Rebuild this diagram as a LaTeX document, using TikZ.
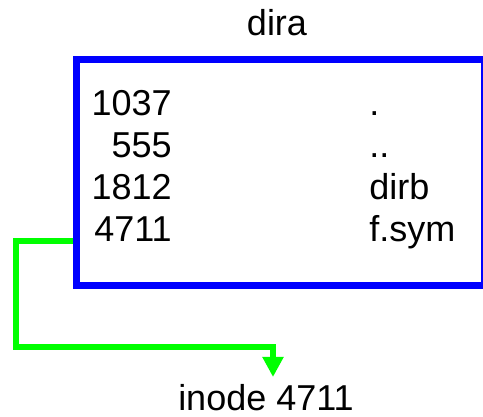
\documentclass[tikz,border=0pt]{standalone}
\usepackage{fontspec}
\setmainfont{Liberation Sans}
\usetikzlibrary{arrows.meta}
\tikzset{
  entry/.style={font=\fontsize{27}{32}\selectfont, inner sep=0pt},
  dirframe/.style={draw=blue, line width=5pt, inner sep=0pt,
    minimum width=305.8pt, minimum height=169.5pt},
  link/.style={draw=green, line width=4.8pt, -{Triangle[length=15pt,width=15pt]}}
}
\begin{document}
\begin{tikzpicture}[x=0.75pt,y=-0.75pt]
   \useasboundingbox (0,0) rectangle (483,417);
   \node[dirframe] (dira) at (280.4,172.5) {};
   \node[entry, anchor=base] (title) at (277,36) {dira};
   \node[entry, anchor=base east] (n1037) at (172,116) {1037};
   \node[entry, anchor=base east] (n555) at (172,158) {555};
   \node[entry, anchor=base east] (n1812) at (172,200) {1812};
   \node[entry, anchor=base east] (n4711) at (172,242) {4711};
   \node[entry, anchor=base west] (dot) at (369,116) {.};
   \node[entry, anchor=base west] (dotdot) at (369,158) {..};
   \node[entry, anchor=base west] (dirb) at (369,200) {dirb};
   \node[entry, anchor=base west] (fsym) at (369,242) {f.sym};
   \node[entry, anchor=base, text depth=0pt] (inode) at (266,411) {inode 4711};
   \coordinate (src) at (dira.west |- 0,241);
   \coordinate (bend) at (16,347);
   \coordinate (tip) at (273,377);
   \draw[link] (src) -| (bend) -| (tip);
\end{tikzpicture}
\end{document}
